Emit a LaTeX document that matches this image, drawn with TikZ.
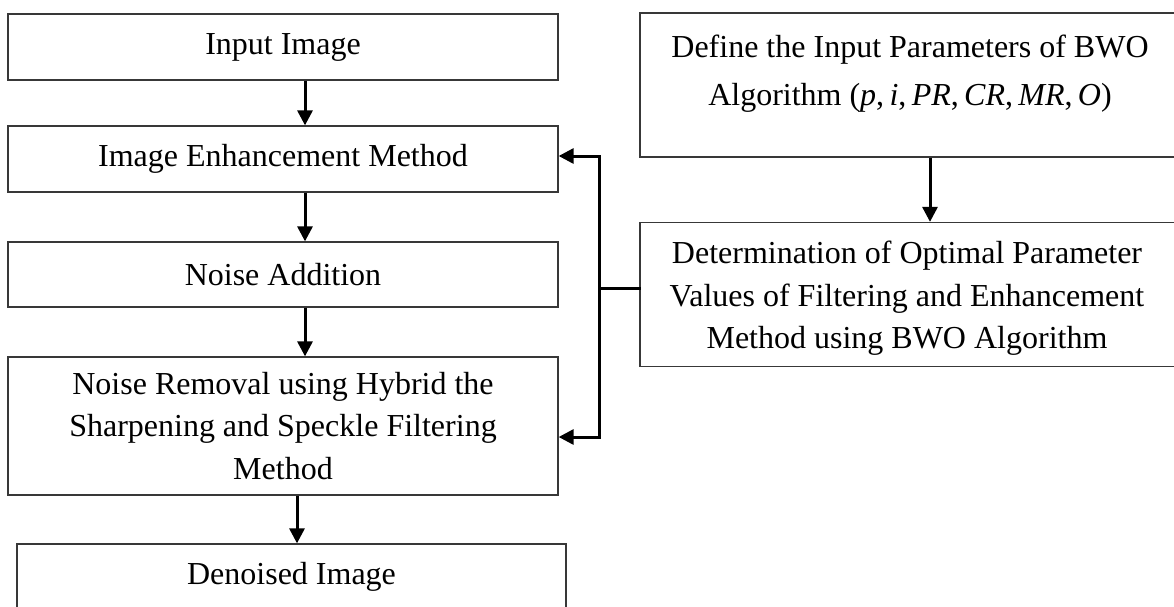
\documentclass[tikz,border=0pt]{standalone}
\usepackage{fontspec}
\setmainfont{Liberation Serif}
\usetikzlibrary{arrows.meta}
\begin{document}
\begin{tikzpicture}[x=1pt,y=-1pt,
  txt/.style={inner sep=0pt, align=center, font=\fontsize{32}{42.5}\selectfont},
  box/.style={txt, draw=black!78, line width=1.3pt, minimum width=550pt},
  link/.style={line width=3pt, line join=miter},
  flow/.style={link, -{Triangle[length=15pt,width=15pt]}}]
  \clip (0,0) rectangle (1174,606);

  % main pipeline (left column)
  \node[box, minimum height=66pt] (input) at (283,47) {Input Image};
  \node[box, minimum height=66pt] (enh) at (283,159) {Image Enhancement Method};
  \node[box, minimum height=65pt] (noise) at (283,274.5) {Noise Addition};
  \node[box, minimum height=138pt] (rem) at (283,426)
    {Noise Removal using Hybrid the\\Sharpening and Speckle Filtering\\Method};
  \node[box, minimum width=549pt, minimum height=65pt] (den) at (291.5,576.5) {Denoised Image};

  % optimisation branch (right column)
  \node[box, minimum width=540pt, minimum height=144pt] (def) at (910,85) {};
  \node[txt, anchor=north, font=\fontsize{32}{48}\selectfont] (deftxt) at (910,35)
    {Define the Input Parameters of BWO\\
     Algorithm (\textit{p},\,\textit{i},\,\textit{PR},\,\textit{CR},\,\textit{MR},\,\textit{O})};
  \node[box, minimum width=540pt, minimum height=144pt] (det) at (910,294.5) {};
  \node[txt, anchor=north] (dettxt) at (907,241)
    {Determination of Optimal Parameter\\Values of Filtering and Enhancement\\Method using BWO Algorithm};

  % connector columns and bend points
  \coordinate (colA) at (305,0);
  \coordinate (colB) at (297,0);
  \coordinate (colC) at (930,0);
  \coordinate (jn) at (599,288);
  \coordinate (upE) at (599,156);
  \coordinate (dnE) at (599,437);

  \draw[flow] (input.south -| colA) -- (enh.north -| colA);
  \draw[flow] (enh.south -| colA) -- (noise.north -| colA);
  \draw[flow] (noise.south -| colA) -- (rem.north -| colA);
  \draw[flow] (rem.south -| colB) -- (den.north -| colB);
  \draw[flow] (def.south -| colC) -- (det.north -| colC);

  % feedback of optimal values to both processing stages
  \draw[link, line cap=rect] (det.west |- jn) -- (jn);
  \draw[flow] (jn) -- (upE) -- (enh.east |- upE);
  \draw[flow] (jn) -- (dnE) -- (rem.east |- dnE);
\end{tikzpicture}
\end{document}
